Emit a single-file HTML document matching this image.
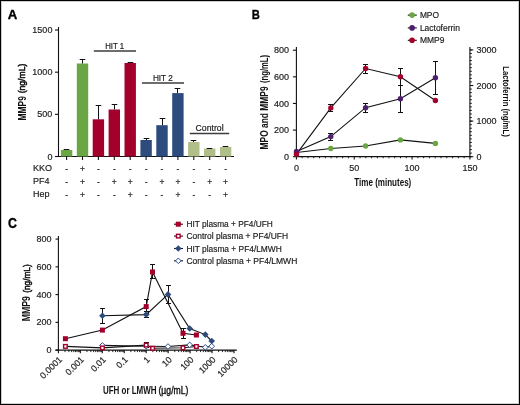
<!DOCTYPE html>
<html><head><meta charset="utf-8"><style>
html,body{margin:0;padding:0;background:#fff;}
#fig{position:relative;width:520px;height:405px;overflow:hidden;background:#fff;}
#fig svg{position:absolute;left:0;top:0;will-change:transform;}
#brd{position:absolute;left:0;top:0;width:520px;height:405px;box-sizing:border-box;border-style:solid;border-color:#000;border-width:1px;box-shadow:inset 0 0 0 1px #cfcfcf;}
text{font-family:"Liberation Sans",sans-serif;}
</style></head><body>
<div id="fig">
<svg width="520" height="405" viewBox="0 0 520 405" font-family="Liberation Sans, sans-serif">
<text transform="translate(7.7,18.8) scale(1.0,1)" font-size="13.2" font-weight="bold" fill="#000" stroke="#000" stroke-width="0.35">A</text>
<line x1="58.50" y1="27.00" x2="58.50" y2="157.00" stroke="#111" stroke-width="1.1"/>
<line x1="55.00" y1="156.50" x2="58.50" y2="156.50" stroke="#111" stroke-width="1.1"/>
<text x="52.4" y="159.6" font-size="9" text-anchor="end" font-weight="normal" fill="#1c1c1c"  stroke="#1c1c1c" stroke-width="0.18">0</text>
<line x1="55.00" y1="114.33" x2="58.50" y2="114.33" stroke="#111" stroke-width="1.1"/>
<text x="52.4" y="117.43333333333334" font-size="9" text-anchor="end" font-weight="normal" fill="#1c1c1c"  stroke="#1c1c1c" stroke-width="0.18">500</text>
<line x1="55.00" y1="72.17" x2="58.50" y2="72.17" stroke="#111" stroke-width="1.1"/>
<text x="52.4" y="75.26666666666667" font-size="9" text-anchor="end" font-weight="normal" fill="#1c1c1c"  stroke="#1c1c1c" stroke-width="0.18">1000</text>
<line x1="55.00" y1="30.00" x2="58.50" y2="30.00" stroke="#111" stroke-width="1.1"/>
<text x="52.4" y="33.1" font-size="9" text-anchor="end" font-weight="normal" fill="#1c1c1c"  stroke="#1c1c1c" stroke-width="0.18">1500</text>
<line x1="55.00" y1="156.50" x2="234.00" y2="156.50" stroke="#111" stroke-width="1.2"/>
<rect x="60.90" y="150.00" width="11.4" height="6.50" fill="#6aa644"/>
<line x1="63.70" y1="149.50" x2="69.30" y2="149.50" stroke="#111" stroke-width="1.0"/>
<line x1="66.60" y1="156.50" x2="66.60" y2="160.00" stroke="#111" stroke-width="1.1"/>
<rect x="76.80" y="63.50" width="11.4" height="93.00" fill="#6aa644"/>
<line x1="82.50" y1="59.50" x2="82.50" y2="63.50" stroke="#111" stroke-width="1.0"/>
<line x1="79.70" y1="59.50" x2="85.30" y2="59.50" stroke="#111" stroke-width="1.0"/>
<line x1="82.50" y1="156.50" x2="82.50" y2="160.00" stroke="#111" stroke-width="1.1"/>
<rect x="92.70" y="119.30" width="11.4" height="37.20" fill="#a3002b"/>
<line x1="98.50" y1="105.50" x2="98.50" y2="119.30" stroke="#111" stroke-width="1.0"/>
<line x1="95.70" y1="105.50" x2="101.30" y2="105.50" stroke="#111" stroke-width="1.0"/>
<line x1="98.40" y1="156.50" x2="98.40" y2="160.00" stroke="#111" stroke-width="1.1"/>
<rect x="108.60" y="109.50" width="11.4" height="47.00" fill="#a3002b"/>
<line x1="114.50" y1="104.50" x2="114.50" y2="109.50" stroke="#111" stroke-width="1.0"/>
<line x1="111.70" y1="104.50" x2="117.30" y2="104.50" stroke="#111" stroke-width="1.0"/>
<line x1="114.30" y1="156.50" x2="114.30" y2="160.00" stroke="#111" stroke-width="1.1"/>
<rect x="124.50" y="63.00" width="11.4" height="93.50" fill="#a3002b"/>
<line x1="127.70" y1="62.50" x2="133.30" y2="62.50" stroke="#111" stroke-width="1.0"/>
<line x1="130.20" y1="156.50" x2="130.20" y2="160.00" stroke="#111" stroke-width="1.1"/>
<rect x="140.40" y="140.00" width="11.4" height="16.50" fill="#2d4b7c"/>
<line x1="146.50" y1="138.50" x2="146.50" y2="140.00" stroke="#111" stroke-width="1.0"/>
<line x1="143.70" y1="138.50" x2="149.30" y2="138.50" stroke="#111" stroke-width="1.0"/>
<line x1="146.10" y1="156.50" x2="146.10" y2="160.00" stroke="#111" stroke-width="1.1"/>
<rect x="156.30" y="125.20" width="11.4" height="31.30" fill="#2d4b7c"/>
<line x1="162.50" y1="118.50" x2="162.50" y2="125.20" stroke="#111" stroke-width="1.0"/>
<line x1="159.70" y1="118.50" x2="165.30" y2="118.50" stroke="#111" stroke-width="1.0"/>
<line x1="162.00" y1="156.50" x2="162.00" y2="160.00" stroke="#111" stroke-width="1.1"/>
<rect x="172.20" y="93.10" width="11.4" height="63.40" fill="#2d4b7c"/>
<line x1="177.50" y1="88.50" x2="177.50" y2="93.10" stroke="#111" stroke-width="1.0"/>
<line x1="174.70" y1="88.50" x2="180.30" y2="88.50" stroke="#111" stroke-width="1.0"/>
<line x1="177.90" y1="156.50" x2="177.90" y2="160.00" stroke="#111" stroke-width="1.1"/>
<rect x="188.10" y="142.00" width="11.4" height="14.50" fill="#b0be88"/>
<line x1="193.50" y1="140.50" x2="193.50" y2="142.00" stroke="#111" stroke-width="1.0"/>
<line x1="190.70" y1="140.50" x2="196.30" y2="140.50" stroke="#111" stroke-width="1.0"/>
<line x1="193.80" y1="156.50" x2="193.80" y2="160.00" stroke="#111" stroke-width="1.1"/>
<rect x="204.00" y="148.60" width="11.4" height="7.90" fill="#b0be88"/>
<line x1="206.70" y1="148.50" x2="212.30" y2="148.50" stroke="#111" stroke-width="1.0"/>
<line x1="209.70" y1="156.50" x2="209.70" y2="160.00" stroke="#111" stroke-width="1.1"/>
<rect x="219.90" y="147.00" width="11.4" height="9.50" fill="#b0be88"/>
<line x1="222.70" y1="146.50" x2="228.30" y2="146.50" stroke="#111" stroke-width="1.0"/>
<line x1="225.60" y1="156.50" x2="225.60" y2="160.00" stroke="#111" stroke-width="1.1"/>
<text x="33.1" y="171.0" font-size="9" text-anchor="start" font-weight="normal" fill="#1c1c1c"  stroke="#1c1c1c" stroke-width="0.18">KKO</text>
<text x="66.6" y="171.9" font-size="8.5" text-anchor="middle" font-weight="normal" fill="#1c1c1c"  stroke="#1c1c1c" stroke-width="0.18">-</text>
<text x="82.5" y="171.9" font-size="8.5" text-anchor="middle" font-weight="normal" fill="#1c1c1c"  stroke="#1c1c1c" stroke-width="0.18">+</text>
<text x="98.39999999999999" y="171.9" font-size="8.5" text-anchor="middle" font-weight="normal" fill="#1c1c1c"  stroke="#1c1c1c" stroke-width="0.18">-</text>
<text x="114.3" y="171.9" font-size="8.5" text-anchor="middle" font-weight="normal" fill="#1c1c1c"  stroke="#1c1c1c" stroke-width="0.18">-</text>
<text x="130.2" y="171.9" font-size="8.5" text-anchor="middle" font-weight="normal" fill="#1c1c1c"  stroke="#1c1c1c" stroke-width="0.18">-</text>
<text x="146.1" y="171.9" font-size="8.5" text-anchor="middle" font-weight="normal" fill="#1c1c1c"  stroke="#1c1c1c" stroke-width="0.18">-</text>
<text x="162.0" y="171.9" font-size="8.5" text-anchor="middle" font-weight="normal" fill="#1c1c1c"  stroke="#1c1c1c" stroke-width="0.18">-</text>
<text x="177.89999999999998" y="171.9" font-size="8.5" text-anchor="middle" font-weight="normal" fill="#1c1c1c"  stroke="#1c1c1c" stroke-width="0.18">-</text>
<text x="193.8" y="171.9" font-size="8.5" text-anchor="middle" font-weight="normal" fill="#1c1c1c"  stroke="#1c1c1c" stroke-width="0.18">-</text>
<text x="209.7" y="171.9" font-size="8.5" text-anchor="middle" font-weight="normal" fill="#1c1c1c"  stroke="#1c1c1c" stroke-width="0.18">-</text>
<text x="225.6" y="171.9" font-size="8.5" text-anchor="middle" font-weight="normal" fill="#1c1c1c"  stroke="#1c1c1c" stroke-width="0.18">-</text>
<text x="33.1" y="184.1" font-size="9" text-anchor="start" font-weight="normal" fill="#1c1c1c"  stroke="#1c1c1c" stroke-width="0.18">PF4</text>
<text x="66.6" y="185.0" font-size="8.5" text-anchor="middle" font-weight="normal" fill="#1c1c1c"  stroke="#1c1c1c" stroke-width="0.18">-</text>
<text x="82.5" y="185.0" font-size="8.5" text-anchor="middle" font-weight="normal" fill="#1c1c1c"  stroke="#1c1c1c" stroke-width="0.18">+</text>
<text x="98.39999999999999" y="185.0" font-size="8.5" text-anchor="middle" font-weight="normal" fill="#1c1c1c"  stroke="#1c1c1c" stroke-width="0.18">-</text>
<text x="114.3" y="185.0" font-size="8.5" text-anchor="middle" font-weight="normal" fill="#1c1c1c"  stroke="#1c1c1c" stroke-width="0.18">+</text>
<text x="130.2" y="185.0" font-size="8.5" text-anchor="middle" font-weight="normal" fill="#1c1c1c"  stroke="#1c1c1c" stroke-width="0.18">+</text>
<text x="146.1" y="185.0" font-size="8.5" text-anchor="middle" font-weight="normal" fill="#1c1c1c"  stroke="#1c1c1c" stroke-width="0.18">-</text>
<text x="162.0" y="185.0" font-size="8.5" text-anchor="middle" font-weight="normal" fill="#1c1c1c"  stroke="#1c1c1c" stroke-width="0.18">+</text>
<text x="177.89999999999998" y="185.0" font-size="8.5" text-anchor="middle" font-weight="normal" fill="#1c1c1c"  stroke="#1c1c1c" stroke-width="0.18">+</text>
<text x="193.8" y="185.0" font-size="8.5" text-anchor="middle" font-weight="normal" fill="#1c1c1c"  stroke="#1c1c1c" stroke-width="0.18">-</text>
<text x="209.7" y="185.0" font-size="8.5" text-anchor="middle" font-weight="normal" fill="#1c1c1c"  stroke="#1c1c1c" stroke-width="0.18">+</text>
<text x="225.6" y="185.0" font-size="8.5" text-anchor="middle" font-weight="normal" fill="#1c1c1c"  stroke="#1c1c1c" stroke-width="0.18">+</text>
<text x="33.1" y="197.2" font-size="9" text-anchor="start" font-weight="normal" fill="#1c1c1c"  stroke="#1c1c1c" stroke-width="0.18">Hep</text>
<text x="66.6" y="198.1" font-size="8.5" text-anchor="middle" font-weight="normal" fill="#1c1c1c"  stroke="#1c1c1c" stroke-width="0.18">-</text>
<text x="82.5" y="198.1" font-size="8.5" text-anchor="middle" font-weight="normal" fill="#1c1c1c"  stroke="#1c1c1c" stroke-width="0.18">+</text>
<text x="98.39999999999999" y="198.1" font-size="8.5" text-anchor="middle" font-weight="normal" fill="#1c1c1c"  stroke="#1c1c1c" stroke-width="0.18">-</text>
<text x="114.3" y="198.1" font-size="8.5" text-anchor="middle" font-weight="normal" fill="#1c1c1c"  stroke="#1c1c1c" stroke-width="0.18">-</text>
<text x="130.2" y="198.1" font-size="8.5" text-anchor="middle" font-weight="normal" fill="#1c1c1c"  stroke="#1c1c1c" stroke-width="0.18">+</text>
<text x="146.1" y="198.1" font-size="8.5" text-anchor="middle" font-weight="normal" fill="#1c1c1c"  stroke="#1c1c1c" stroke-width="0.18">-</text>
<text x="162.0" y="198.1" font-size="8.5" text-anchor="middle" font-weight="normal" fill="#1c1c1c"  stroke="#1c1c1c" stroke-width="0.18">-</text>
<text x="177.89999999999998" y="198.1" font-size="8.5" text-anchor="middle" font-weight="normal" fill="#1c1c1c"  stroke="#1c1c1c" stroke-width="0.18">+</text>
<text x="193.8" y="198.1" font-size="8.5" text-anchor="middle" font-weight="normal" fill="#1c1c1c"  stroke="#1c1c1c" stroke-width="0.18">-</text>
<text x="209.7" y="198.1" font-size="8.5" text-anchor="middle" font-weight="normal" fill="#1c1c1c"  stroke="#1c1c1c" stroke-width="0.18">-</text>
<text x="225.6" y="198.1" font-size="8.5" text-anchor="middle" font-weight="normal" fill="#1c1c1c"  stroke="#1c1c1c" stroke-width="0.18">+</text>
<line x1="93.80" y1="51.00" x2="136.00" y2="51.00" stroke="#3c3c3c" stroke-width="1.3"/>
<text x="105.2" y="48.8" font-size="9.2" text-anchor="start" font-weight="normal" fill="#1a1a1a" textLength="19.0" lengthAdjust="spacingAndGlyphs" stroke="#1a1a1a" stroke-width="0.2">HIT 1</text>
<line x1="141.90" y1="83.00" x2="184.00" y2="83.00" stroke="#3c3c3c" stroke-width="1.3"/>
<text x="152.9" y="80.7" font-size="9.2" text-anchor="start" font-weight="normal" fill="#1a1a1a" textLength="19.9" lengthAdjust="spacingAndGlyphs" stroke="#1a1a1a" stroke-width="0.2">HIT 2</text>
<line x1="189.80" y1="133.50" x2="229.20" y2="133.50" stroke="#3c3c3c" stroke-width="1.3"/>
<text x="195.6" y="131.4" font-size="9.2" text-anchor="start" font-weight="normal" fill="#1a1a1a" textLength="28.0" lengthAdjust="spacingAndGlyphs" stroke="#1a1a1a" stroke-width="0.2">Control</text>
<text transform="translate(25.6,120.40) rotate(-90)" font-size="10.2" font-weight="bold" fill="#111" textLength="24.3" lengthAdjust="spacingAndGlyphs">MMP9</text>
<text transform="translate(25.3,93.30) rotate(-90)" font-size="9.6" font-weight="normal" fill="#111" stroke="#111" stroke-width="0.55" textLength="29.6" lengthAdjust="spacingAndGlyphs">(ng/mL)</text>
<text transform="translate(251.8,18.8) scale(0.83,1)" font-size="13.5" font-weight="bold" fill="#000" stroke="#000" stroke-width="0.35">B</text>
<line x1="296.40" y1="47.00" x2="296.40" y2="156.70" stroke="#111" stroke-width="1.1"/>
<line x1="469.90" y1="47.00" x2="469.90" y2="156.70" stroke="#111" stroke-width="1.1"/>
<line x1="296.40" y1="156.70" x2="469.90" y2="156.70" stroke="#111" stroke-width="1.2"/>
<line x1="292.90" y1="156.70" x2="296.40" y2="156.70" stroke="#111" stroke-width="1.1"/>
<text x="289.0" y="159.79999999999998" font-size="9" text-anchor="end" font-weight="normal" fill="#1c1c1c"  stroke="#1c1c1c" stroke-width="0.18">0</text>
<line x1="292.90" y1="130.07" x2="296.40" y2="130.07" stroke="#111" stroke-width="1.1"/>
<text x="289.0" y="133.17499999999998" font-size="9" text-anchor="end" font-weight="normal" fill="#1c1c1c"  stroke="#1c1c1c" stroke-width="0.18">200</text>
<line x1="292.90" y1="103.45" x2="296.40" y2="103.45" stroke="#111" stroke-width="1.1"/>
<text x="289.0" y="106.54999999999998" font-size="9" text-anchor="end" font-weight="normal" fill="#1c1c1c"  stroke="#1c1c1c" stroke-width="0.18">400</text>
<line x1="292.90" y1="76.83" x2="296.40" y2="76.83" stroke="#111" stroke-width="1.1"/>
<text x="289.0" y="79.925" font-size="9" text-anchor="end" font-weight="normal" fill="#1c1c1c"  stroke="#1c1c1c" stroke-width="0.18">600</text>
<line x1="292.90" y1="50.20" x2="296.40" y2="50.20" stroke="#111" stroke-width="1.1"/>
<text x="289.0" y="53.300000000000004" font-size="9" text-anchor="end" font-weight="normal" fill="#1c1c1c"  stroke="#1c1c1c" stroke-width="0.18">800</text>
<line x1="469.90" y1="156.70" x2="473.30" y2="156.70" stroke="#111" stroke-width="1.1"/>
<text x="476.6" y="159.79999999999998" font-size="9" text-anchor="start" font-weight="normal" fill="#1c1c1c"  stroke="#1c1c1c" stroke-width="0.18">0</text>
<line x1="469.90" y1="121.10" x2="473.30" y2="121.10" stroke="#111" stroke-width="1.1"/>
<text x="476.6" y="124.19999999999999" font-size="9" text-anchor="start" font-weight="normal" fill="#1c1c1c"  stroke="#1c1c1c" stroke-width="0.18">1000</text>
<line x1="469.90" y1="85.50" x2="473.30" y2="85.50" stroke="#111" stroke-width="1.1"/>
<text x="476.6" y="88.6" font-size="9" text-anchor="start" font-weight="normal" fill="#1c1c1c"  stroke="#1c1c1c" stroke-width="0.18">2000</text>
<line x1="469.90" y1="49.90" x2="473.30" y2="49.90" stroke="#111" stroke-width="1.1"/>
<text x="476.6" y="53.00000000000001" font-size="9" text-anchor="start" font-weight="normal" fill="#1c1c1c"  stroke="#1c1c1c" stroke-width="0.18">3000</text>
<line x1="469.90" y1="156.70" x2="471.80" y2="156.70" stroke="#111" stroke-width="1.0"/>
<line x1="469.90" y1="153.14" x2="471.80" y2="153.14" stroke="#111" stroke-width="1.0"/>
<line x1="469.90" y1="149.58" x2="471.80" y2="149.58" stroke="#111" stroke-width="1.0"/>
<line x1="469.90" y1="146.02" x2="471.80" y2="146.02" stroke="#111" stroke-width="1.0"/>
<line x1="469.90" y1="142.46" x2="471.80" y2="142.46" stroke="#111" stroke-width="1.0"/>
<line x1="469.90" y1="138.90" x2="471.80" y2="138.90" stroke="#111" stroke-width="1.0"/>
<line x1="469.90" y1="135.34" x2="471.80" y2="135.34" stroke="#111" stroke-width="1.0"/>
<line x1="469.90" y1="131.78" x2="471.80" y2="131.78" stroke="#111" stroke-width="1.0"/>
<line x1="469.90" y1="128.22" x2="471.80" y2="128.22" stroke="#111" stroke-width="1.0"/>
<line x1="469.90" y1="124.66" x2="471.80" y2="124.66" stroke="#111" stroke-width="1.0"/>
<line x1="469.90" y1="121.10" x2="471.80" y2="121.10" stroke="#111" stroke-width="1.0"/>
<line x1="469.90" y1="117.54" x2="471.80" y2="117.54" stroke="#111" stroke-width="1.0"/>
<line x1="469.90" y1="113.98" x2="471.80" y2="113.98" stroke="#111" stroke-width="1.0"/>
<line x1="469.90" y1="110.42" x2="471.80" y2="110.42" stroke="#111" stroke-width="1.0"/>
<line x1="469.90" y1="106.86" x2="471.80" y2="106.86" stroke="#111" stroke-width="1.0"/>
<line x1="469.90" y1="103.30" x2="471.80" y2="103.30" stroke="#111" stroke-width="1.0"/>
<line x1="469.90" y1="99.74" x2="471.80" y2="99.74" stroke="#111" stroke-width="1.0"/>
<line x1="469.90" y1="96.18" x2="471.80" y2="96.18" stroke="#111" stroke-width="1.0"/>
<line x1="469.90" y1="92.62" x2="471.80" y2="92.62" stroke="#111" stroke-width="1.0"/>
<line x1="469.90" y1="89.06" x2="471.80" y2="89.06" stroke="#111" stroke-width="1.0"/>
<line x1="469.90" y1="85.50" x2="471.80" y2="85.50" stroke="#111" stroke-width="1.0"/>
<line x1="469.90" y1="81.94" x2="471.80" y2="81.94" stroke="#111" stroke-width="1.0"/>
<line x1="469.90" y1="78.38" x2="471.80" y2="78.38" stroke="#111" stroke-width="1.0"/>
<line x1="469.90" y1="74.82" x2="471.80" y2="74.82" stroke="#111" stroke-width="1.0"/>
<line x1="469.90" y1="71.26" x2="471.80" y2="71.26" stroke="#111" stroke-width="1.0"/>
<line x1="469.90" y1="67.70" x2="471.80" y2="67.70" stroke="#111" stroke-width="1.0"/>
<line x1="469.90" y1="64.14" x2="471.80" y2="64.14" stroke="#111" stroke-width="1.0"/>
<line x1="469.90" y1="60.58" x2="471.80" y2="60.58" stroke="#111" stroke-width="1.0"/>
<line x1="469.90" y1="57.02" x2="471.80" y2="57.02" stroke="#111" stroke-width="1.0"/>
<line x1="469.90" y1="53.46" x2="471.80" y2="53.46" stroke="#111" stroke-width="1.0"/>
<line x1="469.90" y1="49.90" x2="471.80" y2="49.90" stroke="#111" stroke-width="1.0"/>
<line x1="296.40" y1="156.70" x2="296.40" y2="159.50" stroke="#111" stroke-width="1.1"/>
<line x1="302.18" y1="156.70" x2="302.18" y2="158.30" stroke="#111" stroke-width="0.9"/>
<line x1="307.97" y1="156.70" x2="307.97" y2="158.30" stroke="#111" stroke-width="0.9"/>
<line x1="313.75" y1="156.70" x2="313.75" y2="158.30" stroke="#111" stroke-width="0.9"/>
<line x1="319.53" y1="156.70" x2="319.53" y2="158.30" stroke="#111" stroke-width="0.9"/>
<line x1="325.32" y1="156.70" x2="325.32" y2="158.30" stroke="#111" stroke-width="0.9"/>
<line x1="331.10" y1="156.70" x2="331.10" y2="158.30" stroke="#111" stroke-width="0.9"/>
<line x1="336.88" y1="156.70" x2="336.88" y2="158.30" stroke="#111" stroke-width="0.9"/>
<line x1="342.67" y1="156.70" x2="342.67" y2="158.30" stroke="#111" stroke-width="0.9"/>
<line x1="348.45" y1="156.70" x2="348.45" y2="158.30" stroke="#111" stroke-width="0.9"/>
<line x1="354.23" y1="156.70" x2="354.23" y2="159.50" stroke="#111" stroke-width="1.1"/>
<line x1="360.02" y1="156.70" x2="360.02" y2="158.30" stroke="#111" stroke-width="0.9"/>
<line x1="365.80" y1="156.70" x2="365.80" y2="158.30" stroke="#111" stroke-width="0.9"/>
<line x1="371.58" y1="156.70" x2="371.58" y2="158.30" stroke="#111" stroke-width="0.9"/>
<line x1="377.37" y1="156.70" x2="377.37" y2="158.30" stroke="#111" stroke-width="0.9"/>
<line x1="383.15" y1="156.70" x2="383.15" y2="158.30" stroke="#111" stroke-width="0.9"/>
<line x1="388.93" y1="156.70" x2="388.93" y2="158.30" stroke="#111" stroke-width="0.9"/>
<line x1="394.72" y1="156.70" x2="394.72" y2="158.30" stroke="#111" stroke-width="0.9"/>
<line x1="400.50" y1="156.70" x2="400.50" y2="158.30" stroke="#111" stroke-width="0.9"/>
<line x1="406.28" y1="156.70" x2="406.28" y2="158.30" stroke="#111" stroke-width="0.9"/>
<line x1="412.07" y1="156.70" x2="412.07" y2="159.50" stroke="#111" stroke-width="1.1"/>
<line x1="417.85" y1="156.70" x2="417.85" y2="158.30" stroke="#111" stroke-width="0.9"/>
<line x1="423.63" y1="156.70" x2="423.63" y2="158.30" stroke="#111" stroke-width="0.9"/>
<line x1="429.42" y1="156.70" x2="429.42" y2="158.30" stroke="#111" stroke-width="0.9"/>
<line x1="435.20" y1="156.70" x2="435.20" y2="158.30" stroke="#111" stroke-width="0.9"/>
<line x1="440.98" y1="156.70" x2="440.98" y2="158.30" stroke="#111" stroke-width="0.9"/>
<line x1="446.77" y1="156.70" x2="446.77" y2="158.30" stroke="#111" stroke-width="0.9"/>
<line x1="452.55" y1="156.70" x2="452.55" y2="158.30" stroke="#111" stroke-width="0.9"/>
<line x1="458.33" y1="156.70" x2="458.33" y2="158.30" stroke="#111" stroke-width="0.9"/>
<line x1="464.12" y1="156.70" x2="464.12" y2="158.30" stroke="#111" stroke-width="0.9"/>
<line x1="469.90" y1="156.70" x2="469.90" y2="159.50" stroke="#111" stroke-width="1.1"/>
<text x="296.4" y="171.2" font-size="9" text-anchor="middle" font-weight="normal" fill="#1c1c1c"  stroke="#1c1c1c" stroke-width="0.18">0</text>
<text x="354.2333333333333" y="171.2" font-size="9" text-anchor="middle" font-weight="normal" fill="#1c1c1c"  stroke="#1c1c1c" stroke-width="0.18">50</text>
<text x="412.06666666666666" y="171.2" font-size="9" text-anchor="middle" font-weight="normal" fill="#1c1c1c"  stroke="#1c1c1c" stroke-width="0.18">100</text>
<text x="469.9" y="171.2" font-size="9" text-anchor="middle" font-weight="normal" fill="#1c1c1c"  stroke="#1c1c1c" stroke-width="0.18">150</text>
<text x="354.3" y="185.6" font-size="11.4" text-anchor="start" font-weight="bold" fill="#111" textLength="57.0" lengthAdjust="spacingAndGlyphs" >Time (minutes)</text>
<text transform="translate(268.0,149.40) rotate(-90)" font-size="10.2" font-weight="bold" fill="#111" textLength="63.0" lengthAdjust="spacingAndGlyphs">MPO and MMP9</text>
<text transform="translate(268.0,83.00) rotate(-90)" font-size="10.2" font-weight="bold" fill="#111" textLength="28.0" lengthAdjust="spacingAndGlyphs">(ng/mL)</text>
<text transform="translate(503,66.3) rotate(90)" font-size="9.8" font-weight="bold" fill="#111" textLength="70.4" lengthAdjust="spacingAndGlyphs">Lactoferrin (ng/mL)</text>
<polyline points="296.50,152.50 330.80,148.50 365.60,146.00 400.40,139.90 435.40,143.40" fill="none" stroke="#111" stroke-width="1.1"/>
<polyline points="296.50,151.50 330.80,136.60 365.60,107.70 400.40,98.70 435.40,77.70" fill="none" stroke="#111" stroke-width="1.1"/>
<polyline points="296.50,154.20 330.80,107.90 365.60,68.50 400.40,76.80 435.40,100.50" fill="none" stroke="#111" stroke-width="1.1"/>
<line x1="330.50" y1="104.50" x2="330.50" y2="111.50" stroke="#111" stroke-width="1.0"/>
<line x1="328.00" y1="104.50" x2="333.00" y2="104.50" stroke="#111" stroke-width="1.0"/>
<line x1="328.00" y1="111.50" x2="333.00" y2="111.50" stroke="#111" stroke-width="1.0"/>
<line x1="365.50" y1="64.50" x2="365.50" y2="73.50" stroke="#111" stroke-width="1.0"/>
<line x1="363.00" y1="64.50" x2="368.00" y2="64.50" stroke="#111" stroke-width="1.0"/>
<line x1="363.00" y1="73.50" x2="368.00" y2="73.50" stroke="#111" stroke-width="1.0"/>
<line x1="400.50" y1="68.50" x2="400.50" y2="85.50" stroke="#111" stroke-width="1.0"/>
<line x1="398.00" y1="68.50" x2="403.00" y2="68.50" stroke="#111" stroke-width="1.0"/>
<line x1="398.00" y1="85.50" x2="403.00" y2="85.50" stroke="#111" stroke-width="1.0"/>
<line x1="330.50" y1="133.50" x2="330.50" y2="140.50" stroke="#111" stroke-width="1.0"/>
<line x1="328.00" y1="133.50" x2="333.00" y2="133.50" stroke="#111" stroke-width="1.0"/>
<line x1="328.00" y1="140.50" x2="333.00" y2="140.50" stroke="#111" stroke-width="1.0"/>
<line x1="365.50" y1="103.50" x2="365.50" y2="112.50" stroke="#111" stroke-width="1.0"/>
<line x1="363.00" y1="103.50" x2="368.00" y2="103.50" stroke="#111" stroke-width="1.0"/>
<line x1="363.00" y1="112.50" x2="368.00" y2="112.50" stroke="#111" stroke-width="1.0"/>
<line x1="400.50" y1="85.50" x2="400.50" y2="112.50" stroke="#111" stroke-width="1.0"/>
<line x1="398.00" y1="85.50" x2="403.00" y2="85.50" stroke="#111" stroke-width="1.0"/>
<line x1="398.00" y1="112.50" x2="403.00" y2="112.50" stroke="#111" stroke-width="1.0"/>
<line x1="435.50" y1="61.50" x2="435.50" y2="94.50" stroke="#111" stroke-width="1.0"/>
<line x1="433.00" y1="61.50" x2="438.00" y2="61.50" stroke="#111" stroke-width="1.0"/>
<line x1="433.00" y1="94.50" x2="438.00" y2="94.50" stroke="#111" stroke-width="1.0"/>
<circle cx="296.50" cy="152.50" r="2.7" fill="#6aa644"/>
<circle cx="330.80" cy="148.50" r="2.7" fill="#6aa644"/>
<circle cx="365.60" cy="146.00" r="2.7" fill="#6aa644"/>
<circle cx="400.40" cy="139.90" r="2.7" fill="#6aa644"/>
<circle cx="435.40" cy="143.40" r="2.7" fill="#6aa644"/>
<circle cx="296.50" cy="151.50" r="2.7" fill="#4e1f6e"/>
<circle cx="330.80" cy="136.60" r="2.7" fill="#4e1f6e"/>
<circle cx="365.60" cy="107.70" r="2.7" fill="#4e1f6e"/>
<circle cx="400.40" cy="98.70" r="2.7" fill="#4e1f6e"/>
<circle cx="435.40" cy="77.70" r="2.7" fill="#4e1f6e"/>
<circle cx="296.50" cy="154.20" r="2.7" fill="#a3002b"/>
<circle cx="330.80" cy="107.90" r="2.7" fill="#a3002b"/>
<circle cx="365.60" cy="68.50" r="2.7" fill="#a3002b"/>
<circle cx="400.40" cy="76.80" r="2.7" fill="#a3002b"/>
<circle cx="435.40" cy="100.50" r="2.7" fill="#a3002b"/>
<line x1="407.80" y1="15.10" x2="416.80" y2="15.10" stroke="#111" stroke-width="1.1"/>
<circle cx="412.1" cy="15.1" r="2.8" fill="#6aa644"/>
<text x="419.9" y="18.2" font-size="9" text-anchor="start" font-weight="normal" fill="#1c1c1c" textLength="19.1" lengthAdjust="spacingAndGlyphs"  stroke="#1c1c1c" stroke-width="0.18">MPO</text>
<line x1="407.80" y1="27.90" x2="416.80" y2="27.90" stroke="#111" stroke-width="1.1"/>
<circle cx="412.1" cy="27.9" r="2.8" fill="#4e1f6e"/>
<text x="419.9" y="31.0" font-size="9" text-anchor="start" font-weight="normal" fill="#1c1c1c" textLength="40" lengthAdjust="spacingAndGlyphs"  stroke="#1c1c1c" stroke-width="0.18">Lactoferrin</text>
<line x1="407.80" y1="40.30" x2="416.80" y2="40.30" stroke="#111" stroke-width="1.1"/>
<circle cx="412.1" cy="40.3" r="2.8" fill="#a3002b"/>
<text x="419.9" y="43.4" font-size="9" text-anchor="start" font-weight="normal" fill="#1c1c1c" textLength="24.5" lengthAdjust="spacingAndGlyphs"  stroke="#1c1c1c" stroke-width="0.18">MMP9</text>
<text transform="translate(7.9,227.7) scale(0.88,1)" font-size="14" font-weight="bold" fill="#000" stroke="#000" stroke-width="0.35">C</text>
<line x1="58.40" y1="235.90" x2="58.40" y2="350.10" stroke="#111" stroke-width="1.1"/>
<line x1="55.40" y1="350.10" x2="236.90" y2="350.10" stroke="#111" stroke-width="1.2"/>
<line x1="55.50" y1="350.10" x2="58.40" y2="350.10" stroke="#111" stroke-width="1.1"/>
<text x="51.6" y="353.20000000000005" font-size="9" text-anchor="end" font-weight="normal" fill="#1c1c1c"  stroke="#1c1c1c" stroke-width="0.18">0</text>
<line x1="55.50" y1="322.35" x2="58.40" y2="322.35" stroke="#111" stroke-width="1.1"/>
<text x="51.6" y="325.45000000000005" font-size="9" text-anchor="end" font-weight="normal" fill="#1c1c1c"  stroke="#1c1c1c" stroke-width="0.18">200</text>
<line x1="55.50" y1="294.60" x2="58.40" y2="294.60" stroke="#111" stroke-width="1.1"/>
<text x="51.6" y="297.70000000000005" font-size="9" text-anchor="end" font-weight="normal" fill="#1c1c1c"  stroke="#1c1c1c" stroke-width="0.18">400</text>
<line x1="55.50" y1="266.85" x2="58.40" y2="266.85" stroke="#111" stroke-width="1.1"/>
<text x="51.6" y="269.95000000000005" font-size="9" text-anchor="end" font-weight="normal" fill="#1c1c1c"  stroke="#1c1c1c" stroke-width="0.18">600</text>
<line x1="55.50" y1="239.10" x2="58.40" y2="239.10" stroke="#111" stroke-width="1.1"/>
<text x="51.6" y="242.19999999999996" font-size="9" text-anchor="end" font-weight="normal" fill="#1c1c1c"  stroke="#1c1c1c" stroke-width="0.18">800</text>
<line x1="58.40" y1="350.10" x2="58.40" y2="353.30" stroke="#111" stroke-width="1.1"/>
<text transform="translate(62.60,360.2) rotate(-45)" font-size="8.8" text-anchor="end" fill="#1c1c1c" stroke="#1c1c1c" stroke-width="0.18">0.0001</text>
<line x1="65.01" y1="350.10" x2="65.01" y2="352.10" stroke="#111" stroke-width="0.9"/>
<line x1="68.87" y1="350.10" x2="68.87" y2="352.10" stroke="#111" stroke-width="0.9"/>
<line x1="71.62" y1="350.10" x2="71.62" y2="352.10" stroke="#111" stroke-width="0.9"/>
<line x1="73.74" y1="350.10" x2="73.74" y2="352.10" stroke="#111" stroke-width="0.9"/>
<line x1="75.48" y1="350.10" x2="75.48" y2="352.10" stroke="#111" stroke-width="0.9"/>
<line x1="76.95" y1="350.10" x2="76.95" y2="352.10" stroke="#111" stroke-width="0.9"/>
<line x1="78.22" y1="350.10" x2="78.22" y2="352.10" stroke="#111" stroke-width="0.9"/>
<line x1="79.35" y1="350.10" x2="79.35" y2="352.10" stroke="#111" stroke-width="0.9"/>
<line x1="80.35" y1="350.10" x2="80.35" y2="353.30" stroke="#111" stroke-width="1.1"/>
<text transform="translate(84.55,360.2) rotate(-45)" font-size="8.8" text-anchor="end" fill="#1c1c1c" stroke="#1c1c1c" stroke-width="0.18">0.001</text>
<line x1="86.96" y1="350.10" x2="86.96" y2="352.10" stroke="#111" stroke-width="0.9"/>
<line x1="90.82" y1="350.10" x2="90.82" y2="352.10" stroke="#111" stroke-width="0.9"/>
<line x1="93.57" y1="350.10" x2="93.57" y2="352.10" stroke="#111" stroke-width="0.9"/>
<line x1="95.69" y1="350.10" x2="95.69" y2="352.10" stroke="#111" stroke-width="0.9"/>
<line x1="97.43" y1="350.10" x2="97.43" y2="352.10" stroke="#111" stroke-width="0.9"/>
<line x1="98.90" y1="350.10" x2="98.90" y2="352.10" stroke="#111" stroke-width="0.9"/>
<line x1="100.17" y1="350.10" x2="100.17" y2="352.10" stroke="#111" stroke-width="0.9"/>
<line x1="101.30" y1="350.10" x2="101.30" y2="352.10" stroke="#111" stroke-width="0.9"/>
<line x1="102.30" y1="350.10" x2="102.30" y2="353.30" stroke="#111" stroke-width="1.1"/>
<text transform="translate(106.50,360.2) rotate(-45)" font-size="8.8" text-anchor="end" fill="#1c1c1c" stroke="#1c1c1c" stroke-width="0.18">0.01</text>
<line x1="108.91" y1="350.10" x2="108.91" y2="352.10" stroke="#111" stroke-width="0.9"/>
<line x1="112.77" y1="350.10" x2="112.77" y2="352.10" stroke="#111" stroke-width="0.9"/>
<line x1="115.52" y1="350.10" x2="115.52" y2="352.10" stroke="#111" stroke-width="0.9"/>
<line x1="117.64" y1="350.10" x2="117.64" y2="352.10" stroke="#111" stroke-width="0.9"/>
<line x1="119.38" y1="350.10" x2="119.38" y2="352.10" stroke="#111" stroke-width="0.9"/>
<line x1="120.85" y1="350.10" x2="120.85" y2="352.10" stroke="#111" stroke-width="0.9"/>
<line x1="122.12" y1="350.10" x2="122.12" y2="352.10" stroke="#111" stroke-width="0.9"/>
<line x1="123.25" y1="350.10" x2="123.25" y2="352.10" stroke="#111" stroke-width="0.9"/>
<line x1="124.25" y1="350.10" x2="124.25" y2="353.30" stroke="#111" stroke-width="1.1"/>
<text transform="translate(128.45,360.2) rotate(-45)" font-size="8.8" text-anchor="end" fill="#1c1c1c" stroke="#1c1c1c" stroke-width="0.18">0.1</text>
<line x1="130.86" y1="350.10" x2="130.86" y2="352.10" stroke="#111" stroke-width="0.9"/>
<line x1="134.72" y1="350.10" x2="134.72" y2="352.10" stroke="#111" stroke-width="0.9"/>
<line x1="137.47" y1="350.10" x2="137.47" y2="352.10" stroke="#111" stroke-width="0.9"/>
<line x1="139.59" y1="350.10" x2="139.59" y2="352.10" stroke="#111" stroke-width="0.9"/>
<line x1="141.33" y1="350.10" x2="141.33" y2="352.10" stroke="#111" stroke-width="0.9"/>
<line x1="142.80" y1="350.10" x2="142.80" y2="352.10" stroke="#111" stroke-width="0.9"/>
<line x1="144.07" y1="350.10" x2="144.07" y2="352.10" stroke="#111" stroke-width="0.9"/>
<line x1="145.20" y1="350.10" x2="145.20" y2="352.10" stroke="#111" stroke-width="0.9"/>
<line x1="146.20" y1="350.10" x2="146.20" y2="353.30" stroke="#111" stroke-width="1.1"/>
<text transform="translate(150.40,360.2) rotate(-45)" font-size="8.8" text-anchor="end" fill="#1c1c1c" stroke="#1c1c1c" stroke-width="0.18">1</text>
<line x1="152.81" y1="350.10" x2="152.81" y2="352.10" stroke="#111" stroke-width="0.9"/>
<line x1="156.67" y1="350.10" x2="156.67" y2="352.10" stroke="#111" stroke-width="0.9"/>
<line x1="159.42" y1="350.10" x2="159.42" y2="352.10" stroke="#111" stroke-width="0.9"/>
<line x1="161.54" y1="350.10" x2="161.54" y2="352.10" stroke="#111" stroke-width="0.9"/>
<line x1="163.28" y1="350.10" x2="163.28" y2="352.10" stroke="#111" stroke-width="0.9"/>
<line x1="164.75" y1="350.10" x2="164.75" y2="352.10" stroke="#111" stroke-width="0.9"/>
<line x1="166.02" y1="350.10" x2="166.02" y2="352.10" stroke="#111" stroke-width="0.9"/>
<line x1="167.15" y1="350.10" x2="167.15" y2="352.10" stroke="#111" stroke-width="0.9"/>
<line x1="168.15" y1="350.10" x2="168.15" y2="353.30" stroke="#111" stroke-width="1.1"/>
<text transform="translate(172.35,360.2) rotate(-45)" font-size="8.8" text-anchor="end" fill="#1c1c1c" stroke="#1c1c1c" stroke-width="0.18">10</text>
<line x1="174.76" y1="350.10" x2="174.76" y2="352.10" stroke="#111" stroke-width="0.9"/>
<line x1="178.62" y1="350.10" x2="178.62" y2="352.10" stroke="#111" stroke-width="0.9"/>
<line x1="181.37" y1="350.10" x2="181.37" y2="352.10" stroke="#111" stroke-width="0.9"/>
<line x1="183.49" y1="350.10" x2="183.49" y2="352.10" stroke="#111" stroke-width="0.9"/>
<line x1="185.23" y1="350.10" x2="185.23" y2="352.10" stroke="#111" stroke-width="0.9"/>
<line x1="186.70" y1="350.10" x2="186.70" y2="352.10" stroke="#111" stroke-width="0.9"/>
<line x1="187.97" y1="350.10" x2="187.97" y2="352.10" stroke="#111" stroke-width="0.9"/>
<line x1="189.10" y1="350.10" x2="189.10" y2="352.10" stroke="#111" stroke-width="0.9"/>
<line x1="190.10" y1="350.10" x2="190.10" y2="353.30" stroke="#111" stroke-width="1.1"/>
<text transform="translate(194.30,360.2) rotate(-45)" font-size="8.8" text-anchor="end" fill="#1c1c1c" stroke="#1c1c1c" stroke-width="0.18">100</text>
<line x1="196.71" y1="350.10" x2="196.71" y2="352.10" stroke="#111" stroke-width="0.9"/>
<line x1="200.57" y1="350.10" x2="200.57" y2="352.10" stroke="#111" stroke-width="0.9"/>
<line x1="203.32" y1="350.10" x2="203.32" y2="352.10" stroke="#111" stroke-width="0.9"/>
<line x1="205.44" y1="350.10" x2="205.44" y2="352.10" stroke="#111" stroke-width="0.9"/>
<line x1="207.18" y1="350.10" x2="207.18" y2="352.10" stroke="#111" stroke-width="0.9"/>
<line x1="208.65" y1="350.10" x2="208.65" y2="352.10" stroke="#111" stroke-width="0.9"/>
<line x1="209.92" y1="350.10" x2="209.92" y2="352.10" stroke="#111" stroke-width="0.9"/>
<line x1="211.05" y1="350.10" x2="211.05" y2="352.10" stroke="#111" stroke-width="0.9"/>
<line x1="212.05" y1="350.10" x2="212.05" y2="353.30" stroke="#111" stroke-width="1.1"/>
<text transform="translate(216.25,360.2) rotate(-45)" font-size="8.8" text-anchor="end" fill="#1c1c1c" stroke="#1c1c1c" stroke-width="0.18">1000</text>
<line x1="218.66" y1="350.10" x2="218.66" y2="352.10" stroke="#111" stroke-width="0.9"/>
<line x1="222.52" y1="350.10" x2="222.52" y2="352.10" stroke="#111" stroke-width="0.9"/>
<line x1="225.27" y1="350.10" x2="225.27" y2="352.10" stroke="#111" stroke-width="0.9"/>
<line x1="227.39" y1="350.10" x2="227.39" y2="352.10" stroke="#111" stroke-width="0.9"/>
<line x1="229.13" y1="350.10" x2="229.13" y2="352.10" stroke="#111" stroke-width="0.9"/>
<line x1="230.60" y1="350.10" x2="230.60" y2="352.10" stroke="#111" stroke-width="0.9"/>
<line x1="231.87" y1="350.10" x2="231.87" y2="352.10" stroke="#111" stroke-width="0.9"/>
<line x1="233.00" y1="350.10" x2="233.00" y2="352.10" stroke="#111" stroke-width="0.9"/>
<line x1="234.00" y1="350.10" x2="234.00" y2="353.30" stroke="#111" stroke-width="1.1"/>
<text transform="translate(238.20,360.2) rotate(-45)" font-size="8.8" text-anchor="end" fill="#1c1c1c" stroke="#1c1c1c" stroke-width="0.18">10000</text>
<text x="102.9" y="394.3" font-size="11.2" font-weight="bold" fill="#111" textLength="53.7" lengthAdjust="spacingAndGlyphs">UFH or LMWH</text>
<text x="158.5" y="394.3" font-size="10.4" fill="#111" stroke="#111" stroke-width="0.4" textLength="29.9" lengthAdjust="spacingAndGlyphs">(µg/mL)</text>
<text transform="translate(30.3,321.20) rotate(-90)" font-size="10.2" font-weight="bold" fill="#111" textLength="25.0" lengthAdjust="spacingAndGlyphs">MMP9</text>
<text transform="translate(29.900000000000002,292.80) rotate(-90)" font-size="9.6" font-weight="normal" fill="#111" stroke="#111" stroke-width="0.55" textLength="28.5" lengthAdjust="spacingAndGlyphs">(ng/mL)</text>
<polyline points="102.40,345.40 146.20,346.20 168.00,346.50 189.70,344.90 205.30,347.30 211.70,346.20" fill="none" stroke="#111" stroke-width="1.1"/>
<polyline points="65.40,346.40 102.40,347.90 146.20,345.10 152.60,348.30 183.00,347.80 196.40,346.50" fill="none" stroke="#111" stroke-width="1.1"/>
<polyline points="102.40,315.70 146.20,314.60 168.00,294.40 189.70,328.50 205.30,334.60 211.70,341.00" fill="none" stroke="#111" stroke-width="1.1"/>
<polyline points="65.40,338.70 102.40,330.10 146.20,306.60 152.50,272.00 183.00,333.30 196.40,335.00" fill="none" stroke="#111" stroke-width="1.1"/>
<line x1="146.50" y1="299.50" x2="146.50" y2="313.50" stroke="#111" stroke-width="1.0"/>
<line x1="144.00" y1="299.50" x2="149.00" y2="299.50" stroke="#111" stroke-width="1.0"/>
<line x1="144.00" y1="313.50" x2="149.00" y2="313.50" stroke="#111" stroke-width="1.0"/>
<line x1="152.50" y1="264.50" x2="152.50" y2="278.50" stroke="#111" stroke-width="1.0"/>
<line x1="150.00" y1="264.50" x2="155.00" y2="264.50" stroke="#111" stroke-width="1.0"/>
<line x1="150.00" y1="278.50" x2="155.00" y2="278.50" stroke="#111" stroke-width="1.0"/>
<line x1="183.50" y1="328.50" x2="183.50" y2="338.50" stroke="#111" stroke-width="1.0"/>
<line x1="181.00" y1="328.50" x2="186.00" y2="328.50" stroke="#111" stroke-width="1.0"/>
<line x1="181.00" y1="338.50" x2="186.00" y2="338.50" stroke="#111" stroke-width="1.0"/>
<line x1="102.50" y1="308.50" x2="102.50" y2="323.50" stroke="#111" stroke-width="1.0"/>
<line x1="100.00" y1="308.50" x2="105.00" y2="308.50" stroke="#111" stroke-width="1.0"/>
<line x1="100.00" y1="323.50" x2="105.00" y2="323.50" stroke="#111" stroke-width="1.0"/>
<line x1="146.50" y1="311.50" x2="146.50" y2="317.50" stroke="#111" stroke-width="1.0"/>
<line x1="144.00" y1="311.50" x2="149.00" y2="311.50" stroke="#111" stroke-width="1.0"/>
<line x1="144.00" y1="317.50" x2="149.00" y2="317.50" stroke="#111" stroke-width="1.0"/>
<line x1="168.50" y1="285.50" x2="168.50" y2="303.50" stroke="#111" stroke-width="1.0"/>
<line x1="166.00" y1="285.50" x2="171.00" y2="285.50" stroke="#111" stroke-width="1.0"/>
<line x1="166.00" y1="303.50" x2="171.00" y2="303.50" stroke="#111" stroke-width="1.0"/>
<line x1="146.50" y1="342.50" x2="146.50" y2="347.50" stroke="#111" stroke-width="1.0"/>
<line x1="144.00" y1="342.50" x2="149.00" y2="342.50" stroke="#111" stroke-width="1.0"/>
<line x1="144.00" y1="347.50" x2="149.00" y2="347.50" stroke="#111" stroke-width="1.0"/>
<polygon points="102.4,342.59999999999997 105.2,345.4 102.4,348.2 99.60000000000001,345.4" fill="#fff" stroke="#2b4d8e" stroke-width="1.0"/>
<polygon points="146.2,343.4 149.0,346.2 146.2,349.0 143.39999999999998,346.2" fill="#fff" stroke="#2b4d8e" stroke-width="1.0"/>
<polygon points="168,343.7 170.8,346.5 168,349.3 165.2,346.5" fill="#fff" stroke="#2b4d8e" stroke-width="1.0"/>
<polygon points="189.7,342.09999999999997 192.5,344.9 189.7,347.7 186.89999999999998,344.9" fill="#fff" stroke="#2b4d8e" stroke-width="1.0"/>
<polygon points="205.3,344.5 208.10000000000002,347.3 205.3,350.1 202.5,347.3" fill="#fff" stroke="#2b4d8e" stroke-width="1.0"/>
<polygon points="211.7,343.4 214.5,346.2 211.7,349.0 208.89999999999998,346.2" fill="#fff" stroke="#2b4d8e" stroke-width="1.0"/>
<rect x="63.60" y="344.60" width="3.60" height="3.60" fill="#fff" stroke="#a3002b" stroke-width="1.4"/>
<rect x="100.60" y="346.10" width="3.60" height="3.60" fill="#fff" stroke="#a3002b" stroke-width="1.4"/>
<rect x="144.40" y="343.30" width="3.60" height="3.60" fill="#fff" stroke="#a3002b" stroke-width="1.4"/>
<rect x="150.80" y="346.50" width="3.60" height="3.60" fill="#fff" stroke="#a3002b" stroke-width="1.4"/>
<rect x="181.20" y="346.00" width="3.60" height="3.60" fill="#fff" stroke="#a3002b" stroke-width="1.4"/>
<rect x="194.60" y="344.70" width="3.60" height="3.60" fill="#fff" stroke="#a3002b" stroke-width="1.4"/>
<polygon points="102.4,312.4 105.7,315.7 102.4,319.0 99.10000000000001,315.7" fill="#2d4b7c"/>
<polygon points="146.2,311.3 149.5,314.6 146.2,317.90000000000003 142.89999999999998,314.6" fill="#2d4b7c"/>
<polygon points="168,291.09999999999997 171.3,294.4 168,297.7 164.7,294.4" fill="#2d4b7c"/>
<polygon points="189.7,325.2 193.0,328.5 189.7,331.8 186.39999999999998,328.5" fill="#2d4b7c"/>
<polygon points="205.3,331.3 208.60000000000002,334.6 205.3,337.90000000000003 202.0,334.6" fill="#2d4b7c"/>
<polygon points="211.7,337.7 215.0,341 211.7,344.3 208.39999999999998,341" fill="#2d4b7c"/>
<rect x="62.90" y="336.20" width="5.0" height="5.0" fill="#a3002b"/>
<rect x="99.90" y="327.60" width="5.0" height="5.0" fill="#a3002b"/>
<rect x="143.70" y="304.10" width="5.0" height="5.0" fill="#a3002b"/>
<rect x="150.00" y="269.50" width="5.0" height="5.0" fill="#a3002b"/>
<rect x="180.50" y="330.80" width="5.0" height="5.0" fill="#a3002b"/>
<rect x="193.90" y="332.50" width="5.0" height="5.0" fill="#a3002b"/>
<line x1="174.00" y1="224.20" x2="183.00" y2="224.20" stroke="#111" stroke-width="1.1"/>
<rect x="175.80" y="221.70" width="5.0" height="5.0" fill="#a3002b"/>
<text x="186.4" y="227.2" font-size="8.6" text-anchor="start" font-weight="normal" fill="#1c1c1c" textLength="86.4" lengthAdjust="spacingAndGlyphs"  stroke="#1c1c1c" stroke-width="0.18">HIT plasma + PF4/UFH</text>
<line x1="174.00" y1="236.10" x2="183.00" y2="236.10" stroke="#111" stroke-width="1.1"/>
<rect x="176.50" y="234.30" width="3.60" height="3.60" fill="#fff" stroke="#a3002b" stroke-width="1.4"/>
<text x="186.4" y="239.1" font-size="8.6" text-anchor="start" font-weight="normal" fill="#1c1c1c" textLength="101.7" lengthAdjust="spacingAndGlyphs"  stroke="#1c1c1c" stroke-width="0.18">Control plasma + PF4/UFH</text>
<line x1="174.00" y1="248.50" x2="183.00" y2="248.50" stroke="#111" stroke-width="1.1"/>
<polygon points="178.3,245.2 181.60000000000002,248.5 178.3,251.8 175.0,248.5" fill="#2d4b7c"/>
<text x="186.4" y="251.5" font-size="8.6" text-anchor="start" font-weight="normal" fill="#1c1c1c" textLength="95.4" lengthAdjust="spacingAndGlyphs"  stroke="#1c1c1c" stroke-width="0.18">HIT plasma + PF4/LMWH</text>
<line x1="174.00" y1="260.80" x2="183.00" y2="260.80" stroke="#111" stroke-width="1.1"/>
<polygon points="178.3,258.0 181.10000000000002,260.8 178.3,263.6 175.5,260.8" fill="#fff" stroke="#2b4d8e" stroke-width="1.0"/>
<text x="186.4" y="263.8" font-size="8.6" text-anchor="start" font-weight="normal" fill="#1c1c1c" textLength="110.9" lengthAdjust="spacingAndGlyphs"  stroke="#1c1c1c" stroke-width="0.18">Control plasma + PF4/LMWH</text>
</svg>
<div id="brd"></div>
</div>
</body></html>
